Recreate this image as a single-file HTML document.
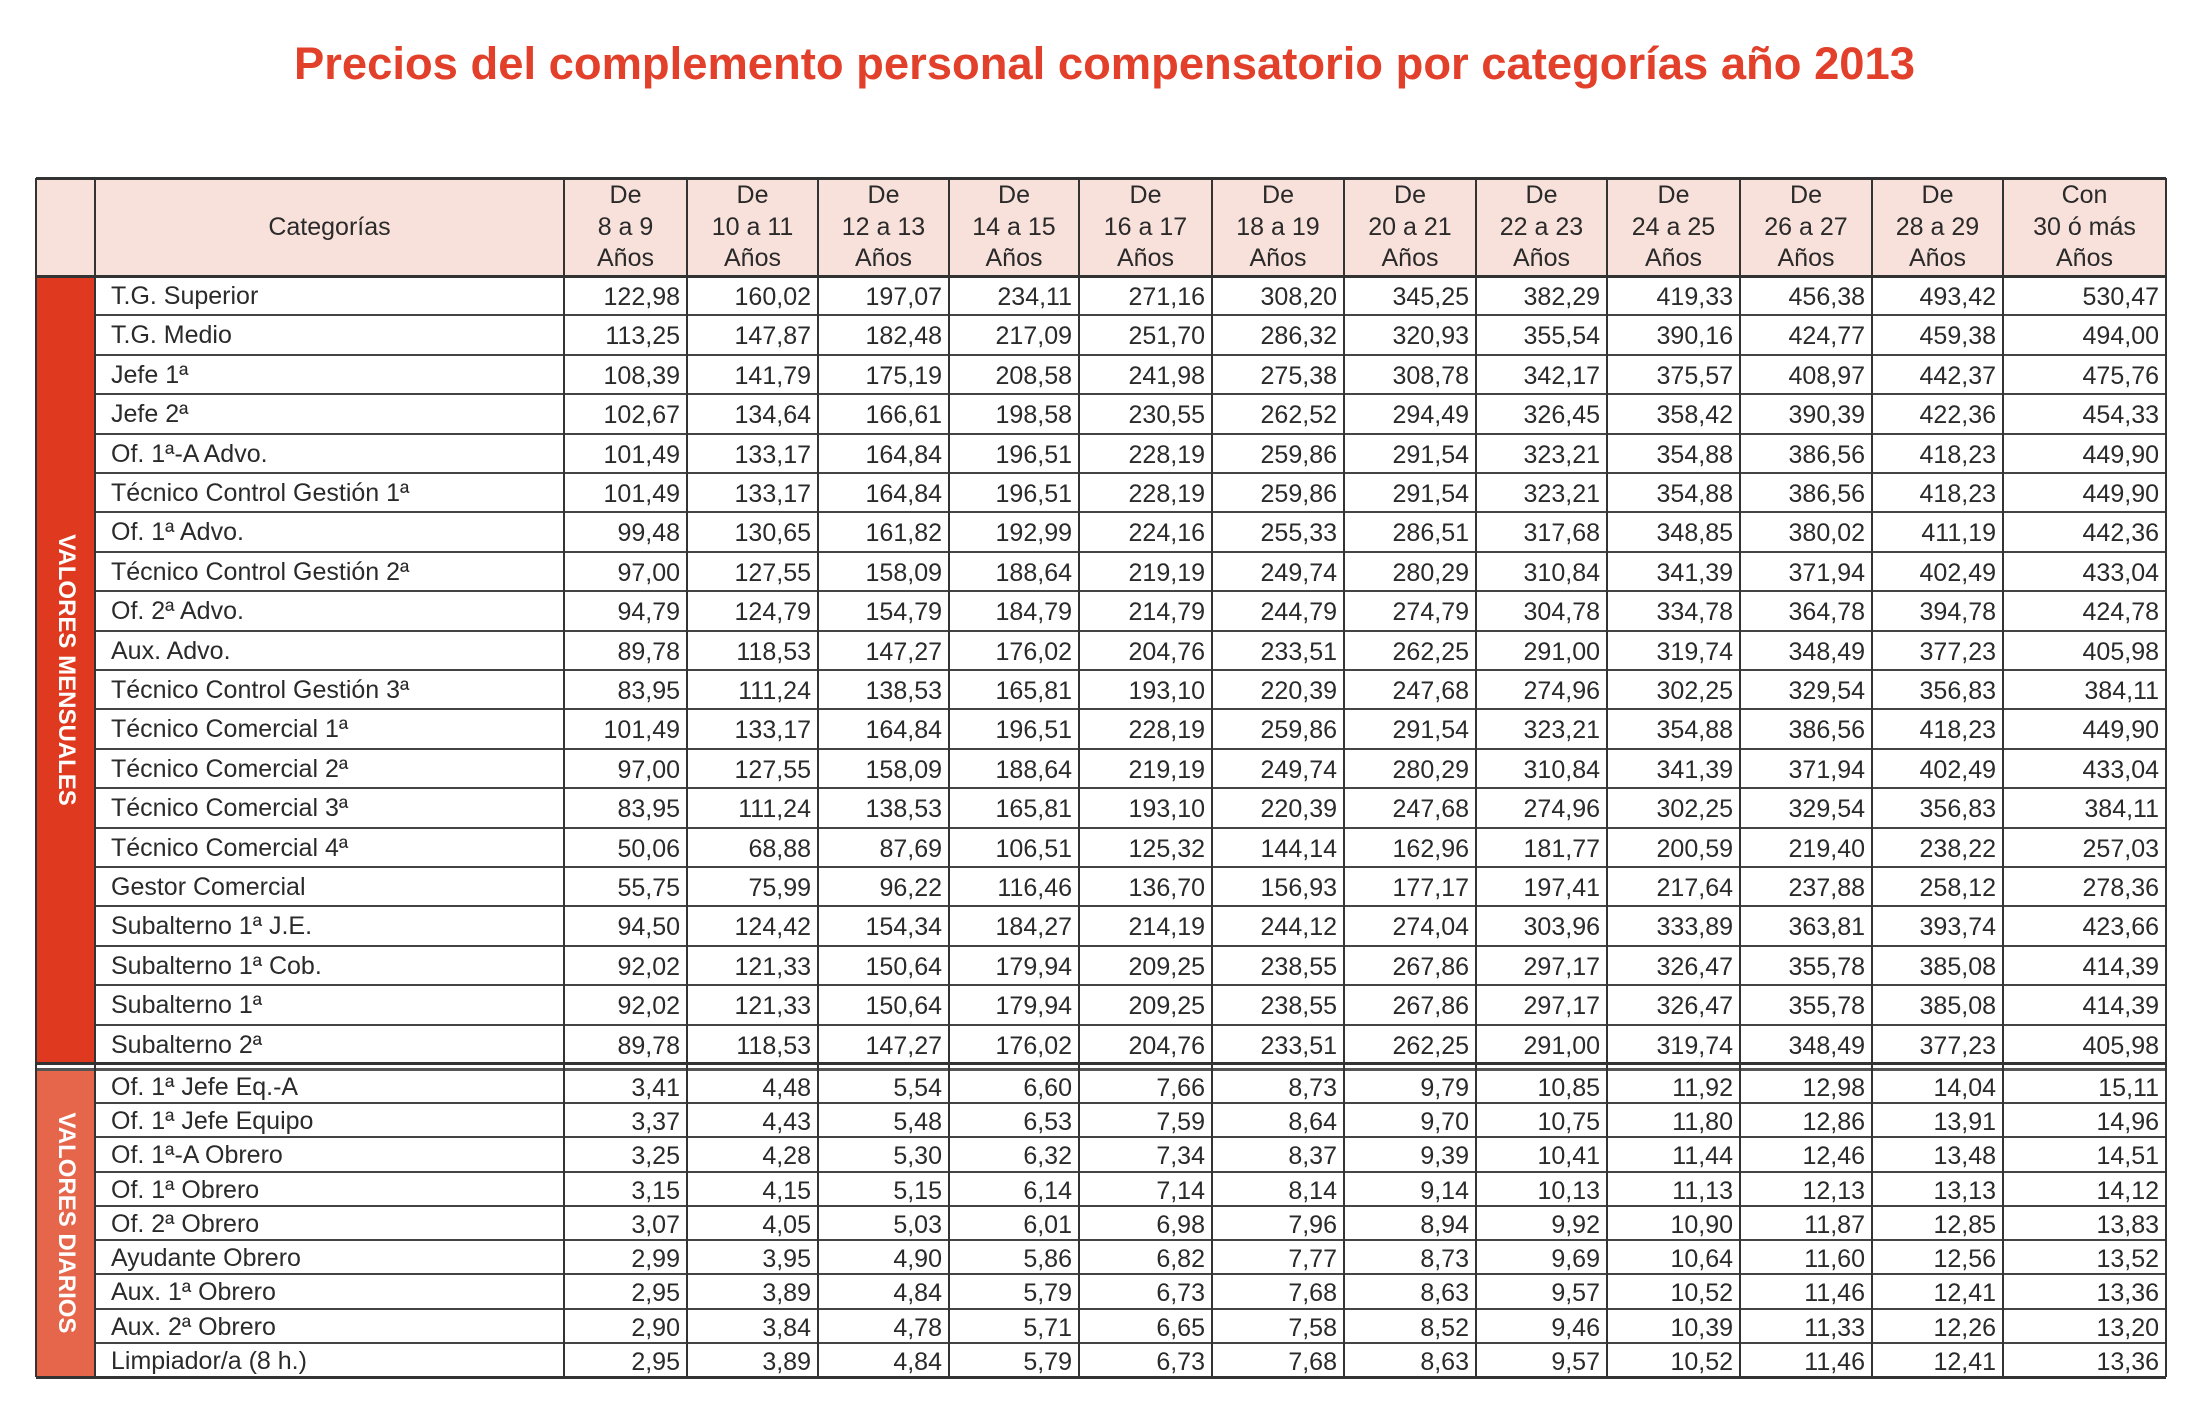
<!DOCTYPE html>
<html><head><meta charset="utf-8">
<style>
body{margin:0;width:2196px;height:1404px;background:#fff;position:relative;overflow:hidden;font-family:"Liberation Sans",sans-serif;color:#2a2a2a}
.a{position:absolute;box-sizing:border-box}
.c{position:absolute;box-sizing:border-box;font-size:25px;white-space:nowrap;line-height:1}
</style></head><body>
<svg class="a" style="left:0;top:0" width="2196" height="120">
<text x="294" y="79" textLength="1621" lengthAdjust="spacingAndGlyphs" font-family="Liberation Sans, sans-serif" font-weight="bold" font-size="45" fill="#e2402a">Precios del complemento personal compensatorio por categorías año 2013</text>
</svg>
<div id="tbl" class="a" style="left:0;top:0;width:2196px;height:1404px"></div>
<script>
const headers1=["De","De","De","De","De","De","De","De","De","De","De","Con"];
const headers2=["8 a 9","10 a 11","12 a 13","14 a 15","16 a 17","18 a 19","20 a 21","22 a 23","24 a 25","26 a 27","28 a 29","30 ó más"];
const monthlyCats=["T.G. Superior","T.G. Medio","Jefe 1ª","Jefe 2ª","Of. 1ª-A Advo.","Técnico Control Gestión 1ª","Of. 1ª Advo.","Técnico Control Gestión 2ª","Of. 2ª Advo.","Aux. Advo.","Técnico Control Gestión 3ª","Técnico Comercial 1ª","Técnico Comercial 2ª","Técnico Comercial 3ª","Técnico Comercial 4ª","Gestor Comercial","Subalterno 1ª J.E.","Subalterno 1ª Cob.","Subalterno 1ª","Subalterno 2ª"];
const monthlyVals=[
["122,98","160,02","197,07","234,11","271,16","308,20","345,25","382,29","419,33","456,38","493,42","530,47"],
["113,25","147,87","182,48","217,09","251,70","286,32","320,93","355,54","390,16","424,77","459,38","494,00"],
["108,39","141,79","175,19","208,58","241,98","275,38","308,78","342,17","375,57","408,97","442,37","475,76"],
["102,67","134,64","166,61","198,58","230,55","262,52","294,49","326,45","358,42","390,39","422,36","454,33"],
["101,49","133,17","164,84","196,51","228,19","259,86","291,54","323,21","354,88","386,56","418,23","449,90"],
["101,49","133,17","164,84","196,51","228,19","259,86","291,54","323,21","354,88","386,56","418,23","449,90"],
["99,48","130,65","161,82","192,99","224,16","255,33","286,51","317,68","348,85","380,02","411,19","442,36"],
["97,00","127,55","158,09","188,64","219,19","249,74","280,29","310,84","341,39","371,94","402,49","433,04"],
["94,79","124,79","154,79","184,79","214,79","244,79","274,79","304,78","334,78","364,78","394,78","424,78"],
["89,78","118,53","147,27","176,02","204,76","233,51","262,25","291,00","319,74","348,49","377,23","405,98"],
["83,95","111,24","138,53","165,81","193,10","220,39","247,68","274,96","302,25","329,54","356,83","384,11"],
["101,49","133,17","164,84","196,51","228,19","259,86","291,54","323,21","354,88","386,56","418,23","449,90"],
["97,00","127,55","158,09","188,64","219,19","249,74","280,29","310,84","341,39","371,94","402,49","433,04"],
["83,95","111,24","138,53","165,81","193,10","220,39","247,68","274,96","302,25","329,54","356,83","384,11"],
["50,06","68,88","87,69","106,51","125,32","144,14","162,96","181,77","200,59","219,40","238,22","257,03"],
["55,75","75,99","96,22","116,46","136,70","156,93","177,17","197,41","217,64","237,88","258,12","278,36"],
["94,50","124,42","154,34","184,27","214,19","244,12","274,04","303,96","333,89","363,81","393,74","423,66"],
["92,02","121,33","150,64","179,94","209,25","238,55","267,86","297,17","326,47","355,78","385,08","414,39"],
["92,02","121,33","150,64","179,94","209,25","238,55","267,86","297,17","326,47","355,78","385,08","414,39"],
["89,78","118,53","147,27","176,02","204,76","233,51","262,25","291,00","319,74","348,49","377,23","405,98"]];
const dailyCats=["Of. 1ª Jefe Eq.-A","Of. 1ª Jefe Equipo","Of. 1ª-A Obrero","Of. 1ª Obrero","Of. 2ª Obrero","Ayudante Obrero","Aux. 1ª Obrero","Aux. 2ª Obrero","Limpiador/a (8 h.)"];
const dailyVals=[
["3,41","4,48","5,54","6,60","7,66","8,73","9,79","10,85","11,92","12,98","14,04","15,11"],
["3,37","4,43","5,48","6,53","7,59","8,64","9,70","10,75","11,80","12,86","13,91","14,96"],
["3,25","4,28","5,30","6,32","7,34","8,37","9,39","10,41","11,44","12,46","13,48","14,51"],
["3,15","4,15","5,15","6,14","7,14","8,14","9,14","10,13","11,13","12,13","13,13","14,12"],
["3,07","4,05","5,03","6,01","6,98","7,96","8,94","9,92","10,90","11,87","12,85","13,83"],
["2,99","3,95","4,90","5,86","6,82","7,77","8,73","9,69","10,64","11,60","12,56","13,52"],
["2,95","3,89","4,84","5,79","6,73","7,68","8,63","9,57","10,52","11,46","12,41","13,36"],
["2,90","3,84","4,78","5,71","6,65","7,58","8,52","9,46","10,39","11,33","12,26","13,20"],
["2,95","3,89","4,84","5,79","6,73","7,68","8,63","9,57","10,52","11,46","12,41","13,36"]];

const T=document.getElementById('tbl');
const L=36,B=95,C=564,R=2166,TOP=178,HB=276,MB=1064,DT=1069,DB=1377;
const colX=[564,687,818,949,1079,1212,1344,1476,1607,1740,1872,2003,2166];
function box(x,y,w,h,css){const d=document.createElement('div');d.className='a';d.style.cssText+=`left:${x}px;top:${y}px;width:${w}px;height:${h}px;`+(css||'');T.appendChild(d);return d;}
function txt(x,y,w,h,s,align,pad){const d=document.createElement('div');d.className='c';d.textContent=s;d.style.cssText+=`left:${x}px;top:${y}px;width:${w}px;height:${h}px;line-height:${h}px;text-align:${align};padding:0 ${pad}px;`;T.appendChild(d);return d;}

let e;
e=box(L,TOP,R-L,HB-TOP,'background:#f8e1da');


e=box(L,HB,B-L,MB-HB,'background:#df3a1f');


e=box(L,DT,B-L,DB-DT,'background:#e6664c');


e=box(L,MB,R-L,DT-MB,'background:#fff');
function vlabel(s,y0,y1,name){const d=document.createElement('div');d.className='c';d.textContent=s;d.style.cssText+=`left:${(L+B)/2-(y1-y0)/2}px;top:${(y0+y1)/2-14}px;width:${y1-y0}px;height:28px;line-height:28px;text-align:center;color:#fff;font-size:24px;font-weight:bold;transform:rotate(90deg);`;T.appendChild(d);}
vlabel("VALORES MENSUALES",HB,MB,'monthly-label');
vlabel("VALORES DIARIOS",DT,DB,'daily-label');

e=txt(B,TOP,C-B,HB-TOP,"Categorías",'center',0);


for(let i=0;i<12;i++){
  const x=colX[i],w=colX[i+1]-colX[i],h=(HB-TOP)/3;
  e=txt(x,TOP+1,w,h,headers1[i],'center',0);
  
  
  e=txt(x,TOP+h,w,h,headers2[i],'center',0);
  
  
  e=txt(x,TOP+2*h-1,w,h,"Años",'center',0);
  
  
}
function rows(cats,vals,y0,y1,prefix){
  const rh=(y1-y0)/cats.length;
  for(let r=0;r<cats.length;r++){
    const y=y0+r*rh;
    if(r>0){e=box(B,y-1,R-B,2,'background:#444');}
    e=txt(B,y+1,C-B,rh,cats[r],'left',16);
    
    
    for(let i=0;i<12;i++){
      e=txt(colX[i],y+2,colX[i+1]-colX[i],rh,vals[r][i],'right',7);
      
      
    }
  }
}
rows(monthlyCats,monthlyVals,HB,MB,'monthly');
rows(dailyCats,dailyVals,DT,DB,'daily');
box(L,TOP-1,R-L,3,'background:#333');
box(L,HB-1,R-L,3,'background:#333');
box(L,MB-2,R-L,3,'background:#333');
box(L,DT-1,R-L,3,'background:#555');
box(L,DB-1,R-L,3,'background:#333');
box(L-1,TOP,2,DB-TOP,'background:#333');
box(R-1,TOP,2,DB-TOP,'background:#333');
box(B-1,TOP,2,DB-TOP,'background:#333');
for(const x of colX.slice(0,-1)){box(x-1,TOP,2,DB-TOP,'background:#333');}
</script>
</body></html>
